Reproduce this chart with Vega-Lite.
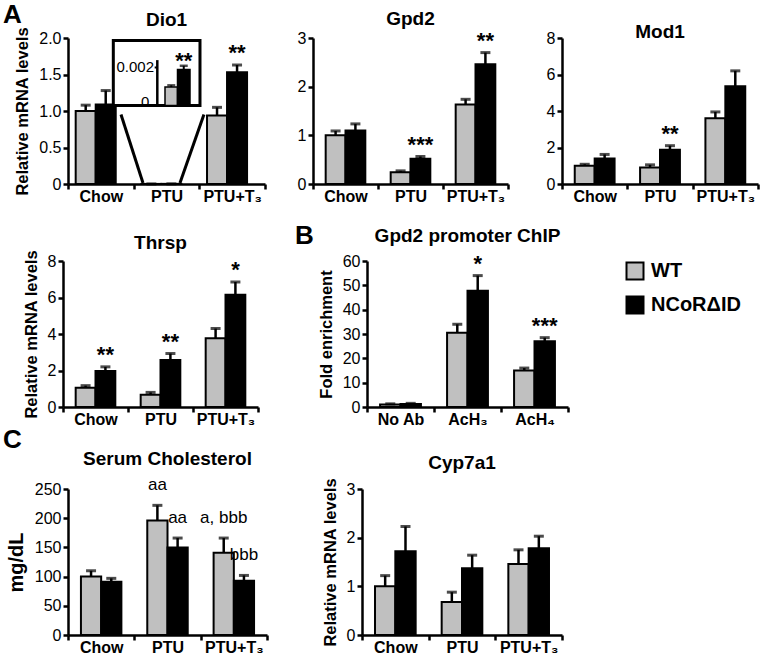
{
  "$schema": "https://vega.github.io/schema/vega-lite/v6.json",
  "padding": {"left": 3, "top": 2, "right": 0, "bottom": 0},
  "config": {
    "font": "Liberation Sans",
    "view": {"stroke": null},
    "title": {"fontSize": 19, "fontWeight": "bold", "color": "black", "baseline": "alphabetic", "offset": 4},
    "axis": {"domainColor": "black", "domainWidth": 2.5, "tickColor": "black", "tickWidth": 2.5, "tickSize": 5, "labelColor": "black", "titleColor": "black", "grid": false},
    "axisX": {"labelFontSize": 16, "labelFontWeight": "bold", "labelAngle": 0, "labelPadding": -1, "title": null},
    "axisY": {"labelFontSize": 16, "labelPadding": 2, "titleFontSize": 16.5, "titleFontWeight": "bold", "titlePadding": 8, "labelOverlap": false},
    "bar": {"stroke": "black", "strokeWidth": 2},
    "text": {"color": "black"}
  },
  "datasets": {
    "dio1": [
      {"group": "Chow", "genotype": "WT", "value": 1.0, "upper": 1.08, "sig": ""},
      {"group": "Chow", "genotype": "NCoRΔID", "value": 1.09, "upper": 1.28, "sig": ""},
      {"group": "PTU", "genotype": "WT", "value": 0.00097, "upper": 0.00106, "sig": ""},
      {"group": "PTU", "genotype": "NCoRΔID", "value": 0.0019, "upper": 0.00209, "sig": ""},
      {"group": "PTU+T₃", "genotype": "WT", "value": 0.94, "upper": 1.05, "sig": ""},
      {"group": "PTU+T₃", "genotype": "NCoRΔID", "value": 1.53, "upper": 1.63, "sig": "**"}
    ],
    "dio1_inset": [
      {"genotype": "WT", "value": 0.00097, "upper": 0.00106, "sig": ""},
      {"genotype": "NCoRΔID", "value": 0.0019, "upper": 0.00209, "sig": "**"}
    ],
    "gpd2": [
      {"group": "Chow", "genotype": "WT", "value": 1.0, "upper": 1.09, "sig": ""},
      {"group": "Chow", "genotype": "NCoRΔID", "value": 1.1, "upper": 1.235, "sig": ""},
      {"group": "PTU", "genotype": "WT", "value": 0.24, "upper": 0.27, "sig": ""},
      {"group": "PTU", "genotype": "NCoRΔID", "value": 0.52, "upper": 0.565, "sig": "***"},
      {"group": "PTU+T₃", "genotype": "WT", "value": 1.635, "upper": 1.74, "sig": ""},
      {"group": "PTU+T₃", "genotype": "NCoRΔID", "value": 2.46, "upper": 2.7, "sig": "**"}
    ],
    "mod1": [
      {"group": "Chow", "genotype": "WT", "value": 1.0, "upper": 1.08, "sig": ""},
      {"group": "Chow", "genotype": "NCoRΔID", "value": 1.4, "upper": 1.62, "sig": ""},
      {"group": "PTU", "genotype": "WT", "value": 0.9, "upper": 1.05, "sig": ""},
      {"group": "PTU", "genotype": "NCoRΔID", "value": 1.87, "upper": 2.1, "sig": "**"},
      {"group": "PTU+T₃", "genotype": "WT", "value": 3.6, "upper": 3.95, "sig": ""},
      {"group": "PTU+T₃", "genotype": "NCoRΔID", "value": 5.35, "upper": 6.2, "sig": ""}
    ],
    "thrsp": [
      {"group": "Chow", "genotype": "WT", "value": 1.05, "upper": 1.17, "sig": ""},
      {"group": "Chow", "genotype": "NCoRΔID", "value": 1.97, "upper": 2.2, "sig": "**"},
      {"group": "PTU", "genotype": "WT", "value": 0.67, "upper": 0.8, "sig": ""},
      {"group": "PTU", "genotype": "NCoRΔID", "value": 2.57, "upper": 2.93, "sig": "**"},
      {"group": "PTU+T₃", "genotype": "WT", "value": 3.77, "upper": 4.3, "sig": ""},
      {"group": "PTU+T₃", "genotype": "NCoRΔID", "value": 6.15, "upper": 6.85, "sig": "*"}
    ],
    "chip": [
      {"group": "No Ab", "genotype": "WT", "value": 1.0, "upper": 1.3, "sig": ""},
      {"group": "No Ab", "genotype": "NCoRΔID", "value": 1.2, "upper": 1.5, "sig": ""},
      {"group": "AcH₃", "genotype": "WT", "value": 30.5, "upper": 34, "sig": ""},
      {"group": "AcH₃", "genotype": "NCoRΔID", "value": 47.8, "upper": 54, "sig": "*"},
      {"group": "AcH₄", "genotype": "WT", "value": 15, "upper": 16, "sig": ""},
      {"group": "AcH₄", "genotype": "NCoRΔID", "value": 27, "upper": 28.5, "sig": "***"}
    ],
    "chol": [
      {"group": "Chow", "genotype": "WT", "value": 100, "upper": 110, "note": ""},
      {"group": "Chow", "genotype": "NCoRΔID", "value": 91, "upper": 97, "note": ""},
      {"group": "PTU", "genotype": "WT", "value": 196, "upper": 222, "note": "aa"},
      {"group": "PTU", "genotype": "NCoRΔID", "value": 150, "upper": 166, "note": "aa"},
      {"group": "PTU+T₃", "genotype": "WT", "value": 141, "upper": 166, "note": "a, bbb"},
      {"group": "PTU+T₃", "genotype": "NCoRΔID", "value": 93, "upper": 102, "note": "bbb"}
    ],
    "cyp7a1": [
      {"group": "Chow", "genotype": "WT", "value": 1.0, "upper": 1.22},
      {"group": "Chow", "genotype": "NCoRΔID", "value": 1.72, "upper": 2.23},
      {"group": "PTU", "genotype": "WT", "value": 0.68, "upper": 0.88},
      {"group": "PTU", "genotype": "NCoRΔID", "value": 1.37, "upper": 1.64},
      {"group": "PTU+T₃", "genotype": "WT", "value": 1.46, "upper": 1.75},
      {"group": "PTU+T₃", "genotype": "NCoRΔID", "value": 1.78, "upper": 2.03}
    ]
  },
  "spacing": 19,
  "resolve": {"scale": {"color": "independent", "xOffset": "independent"}, "legend": {"color": "independent"}},
  "vconcat": [
    {
      "bounds": "flush",
      "spacing": 64,
      "resolve": {"scale": {"color": "independent", "xOffset": "independent"}, "legend": {"color": "independent"}},
      "hconcat": [
        {"width": 1, "height": 146, "data": {"values": []}, "mark": "point",
         "title": {"text": "A", "fontSize": 26, "anchor": "start", "frame": "group", "offset": 10}},
        {
          "bounds": "flush",
          "spacing": 48,
          "resolve": {"scale": {"color": "independent", "xOffset": "independent"}, "legend": {"color": "independent"}},
          "hconcat": [
            {
              "title": {"text": "Dio1", "offset": -3},
              "width": 197,
              "height": 146,
              "resolve": {"scale": {"x": "independent", "y": "independent"}},
              "layer": [
                {
                  "resolve": {"scale": {"x": "independent"}},
                  "layer": [
                    {
                      "data": {"name": "dio1"},
                      "encoding": {
                        "x": {"field": "group", "type": "nominal", "sort": ["Chow", "PTU", "PTU+T₃"], "scale": {"paddingInner": 0, "paddingOuter": 0}, "axis": {"tickBand": "extent"}},
                        "xOffset": {"field": "genotype", "type": "nominal", "sort": ["WT", "NCoRΔID"], "scale": {"paddingInner": 0, "paddingOuter": 0.64, "align": 0.3}}
                      },
                      "layer": [
                        {"mark": "bar", "encoding": {
                          "y": {"field": "value", "type": "quantitative", "scale": {"domain": [0, 2], "nice": false}, "axis": {"values": [0, 0.5, 1, 1.5, 2], "labelExpr": "datum.value == 0 ? '0' : format(datum.value, '.1f')"}, "title": "Relative mRNA levels"},
                          "color": {"field": "genotype", "type": "nominal", "scale": {"domain": ["WT", "NCoRΔID"], "range": ["#c0c0c0", "#000000"]}, "legend": null}
                        }},
                        {"mark": {"type": "rule", "strokeWidth": 2.5, "color": "black"}, "encoding": {"y": {"field": "value", "type": "quantitative", "axis": {"values": [0, 0.5, 1, 1.5, 2], "labelExpr": "datum.value == 0 ? '0' : format(datum.value, '.1f')"}, "title": "Relative mRNA levels"}, "y2": {"field": "upper"}}},
                        {"mark": {"type": "tick", "size": 10, "thickness": 3, "color": "black"}, "encoding": {"y": {"field": "upper", "type": "quantitative", "axis": {"values": [0, 0.5, 1, 1.5, 2], "labelExpr": "datum.value == 0 ? '0' : format(datum.value, '.1f')"}, "title": "Relative mRNA levels"}}},
                        {"mark": {"type": "text", "fontSize": 22, "fontWeight": "bold", "baseline": "alphabetic", "dy": -5}, "encoding": {"y": {"field": "upper", "type": "quantitative", "axis": {"values": [0, 0.5, 1, 1.5, 2], "labelExpr": "datum.value == 0 ? '0' : format(datum.value, '.1f')"}, "title": "Relative mRNA levels"}, "text": {"field": "sig"}}}
                      ]
                    },
                    {
                      "data": {"values": [{}]},
                      "layer": [
                        {"mark": {"type": "rect", "fill": "white", "stroke": "black", "strokeWidth": 3}, "encoding": {
                          "x": {"datum": 0.69, "type": "quantitative", "scale": {"domain": [0, 3], "nice": false, "zero": false}, "axis": null},
                          "x2": {"datum": 2.01},
                          "y": {"datum": 1.076, "type": "quantitative", "axis": {"values": [0, 0.5, 1, 1.5, 2], "labelExpr": "datum.value == 0 ? '0' : format(datum.value, '.1f')"}, "title": "Relative mRNA levels"},
                          "y2": {"datum": 1.965}
                        }},
                        {"mark": {"type": "rule", "strokeWidth": 3, "color": "black"}, "encoding": {
                          "x": {"datum": 0.807, "type": "quantitative"}, "x2": {"datum": 1.142},
                          "y": {"datum": 0.952, "type": "quantitative", "axis": {"values": [0, 0.5, 1, 1.5, 2], "labelExpr": "datum.value == 0 ? '0' : format(datum.value, '.1f')"}, "title": "Relative mRNA levels"}, "y2": {"datum": 0.014}
                        }},
                        {"mark": {"type": "rule", "strokeWidth": 3, "color": "black"}, "encoding": {
                          "x": {"datum": 2.07, "type": "quantitative"}, "x2": {"datum": 1.705},
                          "y": {"datum": 0.952, "type": "quantitative", "axis": {"values": [0, 0.5, 1, 1.5, 2], "labelExpr": "datum.value == 0 ? '0' : format(datum.value, '.1f')"}, "title": "Relative mRNA levels"}, "y2": {"datum": 0.014}
                        }},
                        {"mark": {"type": "rule", "strokeWidth": 2.5, "color": "black"}, "encoding": {
                          "x": {"datum": 1.36, "type": "quantitative"},
                          "y": {"datum": 1.076, "type": "quantitative", "axis": {"values": [0, 0.5, 1, 1.5, 2], "labelExpr": "datum.value == 0 ? '0' : format(datum.value, '.1f')"}, "title": "Relative mRNA levels"}, "y2": {"datum": 1.697}
                        }},
                        {"mark": {"type": "rule", "strokeWidth": 2, "color": "black"}, "encoding": {
                          "x": {"datum": 1.32, "type": "quantitative"}, "x2": {"datum": 1.36},
                          "y": {"datum": 1.596, "type": "quantitative", "axis": {"values": [0, 0.5, 1, 1.5, 2], "labelExpr": "datum.value == 0 ? '0' : format(datum.value, '.1f')"}, "title": "Relative mRNA levels"}
                        }},
                        {"mark": {"type": "text", "fontSize": 15, "align": "right", "baseline": "middle"}, "encoding": {
                          "x": {"datum": 1.31, "type": "quantitative"},
                          "y": {"datum": 1.596, "type": "quantitative", "axis": {"values": [0, 0.5, 1, 1.5, 2], "labelExpr": "datum.value == 0 ? '0' : format(datum.value, '.1f')"}, "title": "Relative mRNA levels"},
                          "text": {"value": "0.002"}
                        }},
                        {"mark": {"type": "text", "fontSize": 15, "align": "right", "baseline": "middle"}, "encoding": {
                          "x": {"datum": 1.24, "type": "quantitative"},
                          "y": {"datum": 1.12, "type": "quantitative", "axis": {"values": [0, 0.5, 1, 1.5, 2], "labelExpr": "datum.value == 0 ? '0' : format(datum.value, '.1f')"}, "title": "Relative mRNA levels"},
                          "text": {"value": "0"}
                        }}
                      ]
                    }
                  ]
                },
                {
                  "data": {"name": "dio1_inset"},
                  "encoding": {
                    "x": {"field": "genotype", "type": "nominal", "sort": ["WT", "NCoRΔID"], "scale": {"range": [97, 122], "paddingInner": 0, "paddingOuter": 0}, "axis": null}
                  },
                  "layer": [
                    {"mark": {"type": "bar", "strokeWidth": 1.5}, "encoding": {
                      "y": {"field": "value", "type": "quantitative", "scale": {"domain": [-0.004138, 0.003554], "nice": false, "zero": false}, "axis": null},
                      "color": {"field": "genotype", "type": "nominal", "scale": {"domain": ["WT", "NCoRΔID"], "range": ["#c0c0c0", "#000000"]}, "legend": null}
                    }},
                    {"mark": {"type": "rule", "strokeWidth": 2, "color": "black"}, "encoding": {"y": {"field": "value", "type": "quantitative", "axis": null}, "y2": {"field": "upper"}}},
                    {"mark": {"type": "tick", "size": 8, "thickness": 2.5, "color": "black"}, "encoding": {"y": {"field": "upper", "type": "quantitative", "axis": null}}},
                    {"mark": {"type": "text", "fontSize": 22, "fontWeight": "bold", "baseline": "alphabetic", "dy": 2}, "encoding": {"y": {"field": "upper", "type": "quantitative", "axis": null}, "text": {"field": "sig"}}}
                  ]
                }
              ]
            },
            {
              "bounds": "flush",
              "spacing": 54,
              "resolve": {"scale": {"color": "independent", "xOffset": "independent"}, "legend": {"color": "independent"}},
              "hconcat": [
                {
                  "title": {"text": "Gpd2", "offset": 1},
                  "width": 195,
                  "height": 146,
                  "data": {"name": "gpd2"},
                  "encoding": {
                    "x": {"field": "group", "type": "nominal", "sort": ["Chow", "PTU", "PTU+T₃"], "scale": {"paddingInner": 0, "paddingOuter": 0}, "axis": {"tickBand": "extent"}},
                    "xOffset": {"field": "genotype", "type": "nominal", "sort": ["WT", "NCoRΔID"], "scale": {"paddingInner": 0, "paddingOuter": 0.64}}
                  },
                  "layer": [
                    {"mark": "bar", "encoding": {
                      "y": {"field": "value", "type": "quantitative", "scale": {"domain": [0, 3], "nice": false}, "axis": {"values": [0, 1, 2, 3]}, "title": null},
                      "color": {"field": "genotype", "type": "nominal", "scale": {"domain": ["WT", "NCoRΔID"], "range": ["#c0c0c0", "#000000"]}, "legend": null}
                    }},
                    {"mark": {"type": "rule", "strokeWidth": 2.5, "color": "black"}, "encoding": {"y": {"field": "value", "type": "quantitative", "axis": {"values": [0, 1, 2, 3]}, "title": null}, "y2": {"field": "upper"}}},
                    {"mark": {"type": "tick", "size": 10, "thickness": 3, "color": "black"}, "encoding": {"y": {"field": "upper", "type": "quantitative", "axis": {"values": [0, 1, 2, 3]}, "title": null}}},
                    {"mark": {"type": "text", "fontSize": 22, "fontWeight": "bold", "baseline": "alphabetic", "dy": -5}, "encoding": {"y": {"field": "upper", "type": "quantitative", "axis": {"values": [0, 1, 2, 3]}, "title": null}, "text": {"field": "sig"}}}
                  ]
                },
                {
                  "title": {"text": "Mod1", "offset": -12},
                  "width": 196,
                  "height": 146,
                  "data": {"name": "mod1"},
                  "encoding": {
                    "x": {"field": "group", "type": "nominal", "sort": ["Chow", "PTU", "PTU+T₃"], "scale": {"paddingInner": 0, "paddingOuter": 0}, "axis": {"tickBand": "extent"}},
                    "xOffset": {"field": "genotype", "type": "nominal", "sort": ["WT", "NCoRΔID"], "scale": {"paddingInner": 0, "paddingOuter": 0.64}}
                  },
                  "layer": [
                    {"mark": "bar", "encoding": {
                      "y": {"field": "value", "type": "quantitative", "scale": {"domain": [0, 8], "nice": false}, "axis": {"values": [0, 2, 4, 6, 8]}, "title": null},
                      "color": {"field": "genotype", "type": "nominal", "scale": {"domain": ["WT", "NCoRΔID"], "range": ["#c0c0c0", "#000000"]}, "legend": null}
                    }},
                    {"mark": {"type": "rule", "strokeWidth": 2.5, "color": "black"}, "encoding": {"y": {"field": "value", "type": "quantitative", "axis": {"values": [0, 2, 4, 6, 8]}, "title": null}, "y2": {"field": "upper"}}},
                    {"mark": {"type": "tick", "size": 10, "thickness": 3, "color": "black"}, "encoding": {"y": {"field": "upper", "type": "quantitative", "axis": {"values": [0, 2, 4, 6, 8]}, "title": null}}},
                    {"mark": {"type": "text", "fontSize": 22, "fontWeight": "bold", "baseline": "alphabetic", "dy": -5}, "encoding": {"y": {"field": "upper", "type": "quantitative", "axis": {"values": [0, 2, 4, 6, 8]}, "title": null}, "text": {"field": "sig"}}}
                  ]
                }
              ]
            }
          ]
        }
      ]
    },
    {
      "spacing": 0,
      "resolve": {"scale": {"color": "independent", "xOffset": "independent"}, "legend": {"color": "independent"}},
      "vconcat": [
        {
          "bounds": "flush",
          "spacing": 59,
          "resolve": {"scale": {"color": "independent", "xOffset": "independent"}, "legend": {"color": "independent"}},
          "hconcat": [
            {"width": 1, "height": 146, "data": {"values": []}, "mark": "point"},
            {
              "bounds": "flush",
              "spacing": 37,
              "resolve": {"scale": {"color": "independent", "xOffset": "independent"}, "legend": {"color": "independent"}},
              "hconcat": [
                {
                  "title": {"text": "Thrsp", "offset": -3},
                  "width": 195,
                  "height": 146,
                  "data": {"name": "thrsp"},
                  "encoding": {
                    "x": {"field": "group", "type": "nominal", "sort": ["Chow", "PTU", "PTU+T₃"], "scale": {"paddingInner": 0, "paddingOuter": 0}, "axis": {"tickBand": "extent"}},
                    "xOffset": {"field": "genotype", "type": "nominal", "sort": ["WT", "NCoRΔID"], "scale": {"paddingInner": 0, "paddingOuter": 0.64}}
                  },
                  "layer": [
                    {"mark": "bar", "encoding": {
                      "y": {"field": "value", "type": "quantitative", "scale": {"domain": [0, 8], "nice": false}, "axis": {"values": [0, 2, 4, 6, 8]}, "title": "Relative mRNA levels"},
                      "color": {"field": "genotype", "type": "nominal", "scale": {"domain": ["WT", "NCoRΔID"], "range": ["#c0c0c0", "#000000"]}, "legend": null}
                    }},
                    {"mark": {"type": "rule", "strokeWidth": 2.5, "color": "black"}, "encoding": {"y": {"field": "value", "type": "quantitative", "axis": {"values": [0, 2, 4, 6, 8]}, "title": "Relative mRNA levels"}, "y2": {"field": "upper"}}},
                    {"mark": {"type": "tick", "size": 10, "thickness": 3, "color": "black"}, "encoding": {"y": {"field": "upper", "type": "quantitative", "axis": {"values": [0, 2, 4, 6, 8]}, "title": "Relative mRNA levels"}}},
                    {"mark": {"type": "text", "fontSize": 22, "fontWeight": "bold", "baseline": "alphabetic", "dy": -5}, "encoding": {"y": {"field": "upper", "type": "quantitative", "axis": {"values": [0, 2, 4, 6, 8]}, "title": "Relative mRNA levels"}, "text": {"field": "sig"}}}
                  ]
                },
                {
                  "bounds": "flush",
                  "spacing": 71,
                  "resolve": {"scale": {"color": "independent", "xOffset": "independent"}, "legend": {"color": "independent"}},
                  "hconcat": [
                    {"width": 1, "height": 146, "data": {"values": []}, "mark": "point",
                     "title": {"text": "B", "fontSize": 26, "anchor": "start", "frame": "group", "offset": 12}},
                    {
                      "title": {"text": "Gpd2 promoter ChIP", "offset": 7},
                      "width": 201,
                      "height": 146,
                      "data": {"name": "chip"},
                      "encoding": {
                        "x": {"field": "group", "type": "nominal", "sort": ["No Ab", "AcH₃", "AcH₄"], "scale": {"paddingInner": 0, "paddingOuter": 0}, "axis": {"tickBand": "extent"}},
                        "xOffset": {"field": "genotype", "type": "nominal", "sort": ["WT", "NCoRΔID"], "scale": {"paddingInner": 0, "paddingOuter": 0.64}}
                      },
                      "layer": [
                        {"mark": "bar", "encoding": {
                          "y": {"field": "value", "type": "quantitative", "scale": {"domain": [0, 60], "nice": false}, "axis": {"values": [0, 10, 20, 30, 40, 50, 60]}, "title": "Fold enrichment"},
                          "color": {"field": "genotype", "type": "nominal", "scale": {"domain": ["WT", "NCoRΔID"], "range": ["#c0c0c0", "#000000"]},
                            "legend": {"orient": "right", "offset": 57, "title": null, "labelFontSize": 20, "labelFontWeight": "bold", "labelColor": "black", "symbolType": "square", "symbolSize": 289, "symbolStrokeColor": "black", "symbolStrokeWidth": 3, "rowPadding": 8, "labelOffset": 6, "padding": 0,
                              "encode": {"symbols": {"update": {"stroke": {"value": "black"}, "strokeWidth": {"value": 3}}}}}}
                        }},
                        {"mark": {"type": "rule", "strokeWidth": 2.5, "color": "black"}, "encoding": {"y": {"field": "value", "type": "quantitative", "axis": {"values": [0, 10, 20, 30, 40, 50, 60]}, "title": "Fold enrichment"}, "y2": {"field": "upper"}}},
                        {"mark": {"type": "tick", "size": 10, "thickness": 3, "color": "black"}, "encoding": {"y": {"field": "upper", "type": "quantitative", "axis": {"values": [0, 10, 20, 30, 40, 50, 60]}, "title": "Fold enrichment"}}},
                        {"mark": {"type": "text", "fontSize": 22, "fontWeight": "bold", "baseline": "alphabetic", "dy": -5}, "encoding": {"y": {"field": "upper", "type": "quantitative", "axis": {"values": [0, 10, 20, 30, 40, 50, 60]}, "title": "Fold enrichment"}, "text": {"field": "sig"}}}
                      ]
                    }
                  ]
                }
              ]
            }
          ]
        },
        {
          "bounds": "flush",
          "spacing": 64,
          "resolve": {"scale": {"color": "independent", "xOffset": "independent"}, "legend": {"color": "independent"}},
          "hconcat": [
            {"width": 1, "height": 146, "data": {"values": []}, "mark": "point",
             "title": {"text": "C", "fontSize": 26, "anchor": "start", "frame": "group", "offset": 36}},
            {
              "bounds": "flush",
              "spacing": 95,
              "resolve": {"scale": {"color": "independent", "xOffset": "independent"}, "legend": {"color": "independent"}},
              "hconcat": [
                {
                  "title": {"text": "Serum Cholesterol", "offset": 7},
                  "width": 199,
                  "height": 146,
                  "data": {"name": "chol"},
                  "encoding": {
                    "x": {"field": "group", "type": "nominal", "sort": ["Chow", "PTU", "PTU+T₃"], "scale": {"paddingInner": 0, "paddingOuter": 0}, "axis": {"tickBand": "extent"}},
                    "xOffset": {"field": "genotype", "type": "nominal", "sort": ["WT", "NCoRΔID"], "scale": {"paddingInner": 0, "paddingOuter": 0.64}}
                  },
                  "layer": [
                    {"mark": "bar", "encoding": {
                      "y": {"field": "value", "type": "quantitative", "scale": {"domain": [0, 250], "nice": false}, "axis": {"values": [0, 50, 100, 150, 200, 250], "titleFontSize": 20}, "title": "mg/dL"},
                      "color": {"field": "genotype", "type": "nominal", "scale": {"domain": ["WT", "NCoRΔID"], "range": ["#c0c0c0", "#000000"]}, "legend": null}
                    }},
                    {"mark": {"type": "rule", "strokeWidth": 2.5, "color": "black"}, "encoding": {"y": {"field": "value", "type": "quantitative", "axis": {"values": [0, 50, 100, 150, 200, 250], "titleFontSize": 20}, "title": "mg/dL"}, "y2": {"field": "upper"}}},
                    {"mark": {"type": "tick", "size": 10, "thickness": 3, "color": "black"}, "encoding": {"y": {"field": "upper", "type": "quantitative", "axis": {"values": [0, 50, 100, 150, 200, 250], "titleFontSize": 20}, "title": "mg/dL"}}},
                    {"mark": {"type": "text", "fontSize": 17, "baseline": "alphabetic", "dy": -15}, "encoding": {"y": {"field": "upper", "type": "quantitative", "axis": {"values": [0, 50, 100, 150, 200, 250], "titleFontSize": 20}, "title": "mg/dL"}, "text": {"field": "note"}}}
                  ]
                },
                {
                  "title": {"text": "Cyp7a1", "offset": 5},
                  "width": 200,
                  "height": 146,
                  "data": {"name": "cyp7a1"},
                  "encoding": {
                    "x": {"field": "group", "type": "nominal", "sort": ["Chow", "PTU", "PTU+T₃"], "scale": {"paddingInner": 0, "paddingOuter": 0}, "axis": {"tickBand": "extent"}},
                    "xOffset": {"field": "genotype", "type": "nominal", "sort": ["WT", "NCoRΔID"], "scale": {"paddingInner": 0, "paddingOuter": 0.64}}
                  },
                  "layer": [
                    {"mark": "bar", "encoding": {
                      "y": {"field": "value", "type": "quantitative", "scale": {"domain": [0, 3], "nice": false}, "axis": {"values": [0, 1, 2, 3]}, "title": "Relative mRNA levels"},
                      "color": {"field": "genotype", "type": "nominal", "scale": {"domain": ["WT", "NCoRΔID"], "range": ["#c0c0c0", "#000000"]}, "legend": null}
                    }},
                    {"mark": {"type": "rule", "strokeWidth": 2.5, "color": "black"}, "encoding": {"y": {"field": "value", "type": "quantitative", "axis": {"values": [0, 1, 2, 3]}, "title": "Relative mRNA levels"}, "y2": {"field": "upper"}}},
                    {"mark": {"type": "tick", "size": 10, "thickness": 3, "color": "black"}, "encoding": {"y": {"field": "upper", "type": "quantitative", "axis": {"values": [0, 1, 2, 3]}, "title": "Relative mRNA levels"}}}
                  ]
                }
              ]
            }
          ]
        }
      ]
    }
  ]
}
